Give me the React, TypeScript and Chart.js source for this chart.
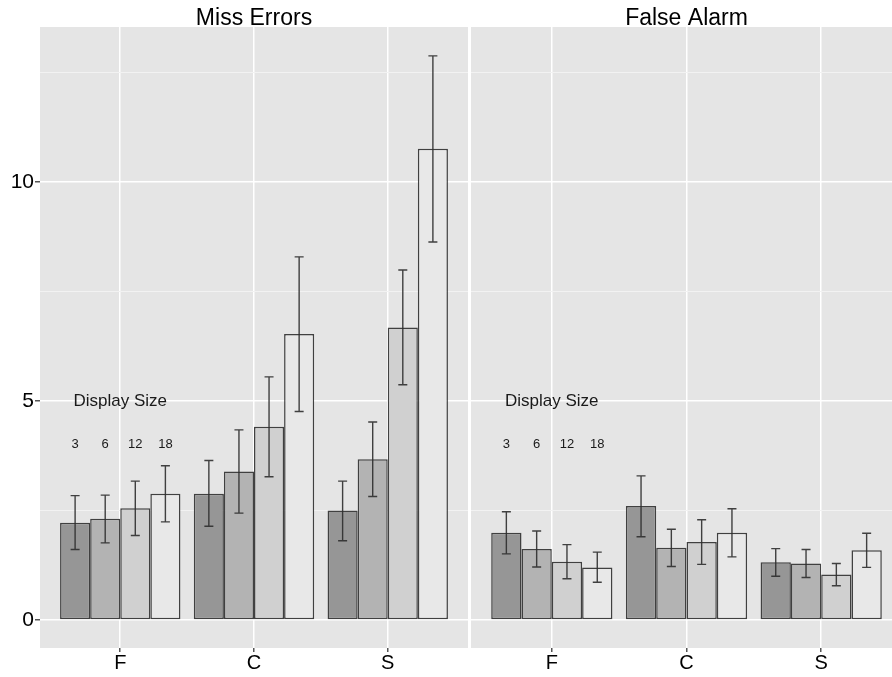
import React, { useEffect, useRef } from "react";
import { Chart, registerables } from "chart.js";

Chart.register(...registerables);

const conditions = ["F", "C", "S"];
const sizes = ["3", "6", "12", "18"];
const fills = ["#969696", "#b3b3b3", "#d0d0d0", "#e8e8e8"];

// Miss Errors, per display size, over F, C, S
const missMean = [
  [2.22, 2.88, 2.5],
  [2.31, 3.39, 3.67],
  [2.55, 4.41, 6.68],
  [2.88, 6.53, 10.76],
];
const missUpper = [
  [2.84, 3.64, 3.17],
  [2.85, 4.34, 4.52],
  [3.17, 5.55, 7.99],
  [3.52, 8.29, 12.88],
];
const missLower = [
  [1.61, 2.14, 1.81],
  [1.76, 2.44, 2.82],
  [1.93, 3.27, 5.37],
  [2.24, 4.76, 8.63],
];

// False Alarm
const faMean = [
  [1.99, 2.6, 1.32],
  [1.62, 1.65, 1.29],
  [1.33, 1.78, 1.04],
  [1.2, 1.99, 1.59],
];
const faUpper = [
  [2.47, 3.29, 1.63],
  [2.03, 2.07, 1.61],
  [1.72, 2.29, 1.29],
  [1.55, 2.54, 1.98],
];
const faLower = [
  [1.51, 1.9, 1.0],
  [1.21, 1.22, 0.97],
  [0.94, 1.27, 0.78],
  [0.86, 1.44, 1.2],
];

const yTicks = [0, 2.5, 5, 7.5, 10, 12.5];
const yMajor = [0, 5, 10];
const yMin = -0.64;
const yMax = 13.54;

// legend-like annotation in data coordinates
const annoTitle = "Display Size";
const annoTitleX = 1;
const annoTitleY = 5;
const annoLabelXs = [0.6625, 0.8875, 1.1125, 1.3375];
const annoLabelY = 4;

const FONT = "'Liberation Sans', Arial, sans-serif";
const EDGE = "rgba(45,45,45,0.9)";

function makeConfig(
  title: string,
  mean: number[][],
  upper: number[][],
  lower: number[][],
  showY: boolean
): any {
  const bgPlugin = {
    id: "panelBg",
    beforeDraw(chart: any) {
      const { ctx, chartArea } = chart;
      ctx.save();
      ctx.fillStyle = "#e5e5e5";
      ctx.fillRect(
        chartArea.left,
        chartArea.top,
        chartArea.right - chartArea.left,
        chartArea.bottom - chartArea.top
      );
      ctx.restore();
    },
  };
  const errPlugin = {
    id: "errBars",
    afterDatasetsDraw(chart: any) {
      const { ctx } = chart;
      const ys = chart.scales.y;
      const xs = chart.scales.x;
      ctx.save();
      ctx.strokeStyle = EDGE;
      ctx.lineWidth = 1.4;
      chart.data.datasets.forEach((_d: any, i: number) => {
        const meta = chart.getDatasetMeta(i);
        meta.data.forEach((el: any, j: number) => {
          const x = el.x;
          const yh = ys.getPixelForValue(upper[i][j]);
          const yl = ys.getPixelForValue(lower[i][j]);
          const cap = 4.5;
          ctx.beginPath();
          ctx.moveTo(x, yh);
          ctx.lineTo(x, yl);
          ctx.moveTo(x - cap, yh);
          ctx.lineTo(x + cap, yh);
          ctx.moveTo(x - cap, yl);
          ctx.lineTo(x + cap, yl);
          ctx.stroke();
        });
      });
      // annotation
      ctx.fillStyle = "#1a1a1a";
      ctx.textAlign = "center";
      ctx.textBaseline = "middle";
      ctx.font = `17px ${FONT}`;
      ctx.fillText(
        annoTitle,
        xs.getPixelForValue(annoTitleX),
        ys.getPixelForValue(annoTitleY)
      );
      ctx.font = `13px ${FONT}`;
      sizes.forEach((s, k) => {
        ctx.fillText(
          s,
          xs.getPixelForValue(annoLabelXs[k]),
          ys.getPixelForValue(annoLabelY)
        );
      });
      ctx.restore();
    },
  };

  return {
    type: "bar",
    data: {
      datasets: sizes.map((s, i) => ({
        label: s,
        data: conditions.map((_c, j) => ({ x: j + 1, y: mean[i][j] })),
        backgroundColor: fills[i],
        borderColor: EDGE,
        borderWidth: 1.5,
        borderSkipped: false,
        categoryPercentage: 0.9,
        barPercentage: 1,
      })),
    },
    options: {
      animation: false,
      responsive: false,
      maintainAspectRatio: false,
      layout: { padding: { left: 0, right: 0, top: 0, bottom: 0 } },
      plugins: {
        legend: { display: false },
        tooltip: { enabled: false },
        title: {
          display: true,
          text: title,
          fullSize: false,
          color: "#000",
          font: { family: FONT, size: 23, weight: "normal", lineHeight: 1.0 },
          padding: { top: 7, bottom: -3 },
        },
      },
      scales: {
        x: {
          type: "linear",
          min: 0.4,
          max: 3.6,
          offset: false,
          afterBuildTicks(scale: any) {
            scale.ticks = [1, 2, 3].map((v) => ({ value: v }));
          },
          afterFit(scale: any) {
            scale.height = 29;
          },
          ticks: {
            autoSkip: false,
            maxRotation: 0,
            padding: -1,
            color: "#000",
            font: { family: FONT, size: 20 },
            callback: (v: number) => conditions[Math.round(v) - 1] ?? "",
          },
          grid: {
            offset: false,
            color: "#ffffff",
            lineWidth: 1.5,
            tickLength: 4,
            tickColor: "#555",
            drawTicks: true,
          },
          border: { display: false },
        },
        y: {
          type: "linear",
          min: yMin,
          max: yMax,
          afterBuildTicks(scale: any) {
            scale.ticks = yTicks.map((v) => ({ value: v }));
          },
          afterFit(scale: any) {
            scale.width = showY ? 40 : 0;
          },
          ticks: {
            display: showY,
            autoSkip: false,
            padding: 1,
            color: "#000",
            font: { family: FONT, size: 21 },
            callback: (v: number) => (yMajor.includes(v) ? String(v) : ""),
          },
          grid: {
            color: (ctx: any) =>
              ctx.tick && yMajor.includes(ctx.tick.value) ? "#ffffff" : "#f2f2f2",
            lineWidth: (ctx: any) =>
              ctx.tick && yMajor.includes(ctx.tick.value) ? 1.5 : 1,
            tickLength: showY ? 5 : 0,
            drawTicks: showY,
            tickColor: (ctx: any) =>
              ctx.tick && yMajor.includes(ctx.tick.value) ? "#555" : "rgba(0,0,0,0)",
          },
          border: { display: false },
        },
      },
    },
    plugins: [bgPlugin, errPlugin],
  };
}

function Panel(props: {
  title: string;
  mean: number[][];
  upper: number[][];
  lower: number[][];
  showY: boolean;
  left: number;
  width: number;
}) {
  const ref = useRef<HTMLCanvasElement | null>(null);
  useEffect(() => {
    if (!ref.current) return;
    const chart = new Chart(
      ref.current,
      makeConfig(props.title, props.mean, props.upper, props.lower, props.showY)
    );
    return () => chart.destroy();
  }, []);
  return (
    <canvas
      ref={ref}
      width={props.width}
      height={677}
      style={{
        position: "absolute",
        left: props.left,
        top: 0,
        width: props.width,
        height: 677,
      }}
    />
  );
}

export default function App() {
  return (
    <div
      style={{
        position: "absolute",
        left: 0,
        top: 0,
        width: 892,
        height: 677,
        overflow: "hidden",
        background: "#ffffff",
      }}
    >
      <Panel
        title="Miss Errors"
        mean={missMean}
        upper={missUpper}
        lower={missLower}
        showY={true}
        left={0}
        width={468}
      />
      <Panel
        title="False Alarm"
        mean={faMean}
        upper={faUpper}
        lower={faLower}
        showY={false}
        left={471}
        width={431}
      />
    </div>
  );
}
